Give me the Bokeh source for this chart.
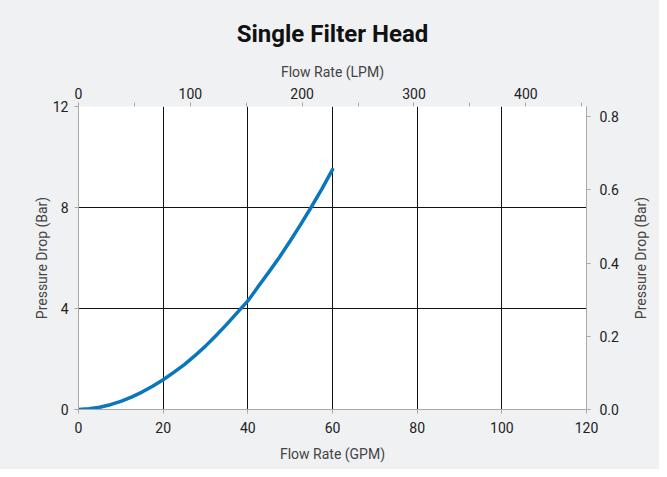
from bokeh.plotting import figure
from bokeh.layouts import row
from bokeh.models import LinearAxis, Range1d, FixedTicker, Title, NumeralTickFormatter
from bokeh.embed import file_html
from bokeh.resources import INLINE

# Data
flow_gpm = [0, 2.5, 5, 7.5, 10, 12.5, 15, 17.5, 20, 22.5, 25, 27.5, 30, 32.5, 35,
            37.5, 40, 42.5, 45, 47.5, 50, 52.5, 55, 57.5, 60]
pressure_psi = [0, 0.03, 0.09, 0.19, 0.32, 0.49, 0.69, 0.92, 1.18, 1.47, 1.78, 2.13,
                2.51, 2.93, 3.37, 3.84, 4.30, 4.88, 5.45, 6.04, 6.67, 7.33, 8.02, 8.74, 9.5]

gpm_ticks = [0, 20, 40, 60, 80, 100, 120]
lpm_ticks = [0, 100, 200, 300, 400]
lpm_minor = [50, 150, 250, 350, 450]
left_ticks = [0, 4, 8, 12]
bar_ticks = [0.0, 0.2, 0.4, 0.6, 0.8]
grid_x = [20, 40, 60, 80, 100]
grid_y = [4, 8, 12]

GPM_MAX = 120
LPM_MAX = 120 * 3.78541
PSI_MAX = 12
BAR_MAX = 12 * 0.0689476

FONT = "Roboto"
BG = "#f0f1f3"
AXIS_GRAY = "#a9a9a9"
TXT = "#222222"
LBL = "#444444"

H = 469
fig = figure(width=622, height=H, output_backend="svg", toolbar_location=None,
             x_range=Range1d(0, GPM_MAX), y_range=Range1d(0, PSI_MAX),
             x_axis_location=None, y_axis_location=None,
             min_border_left=78, min_border_right=36, min_border_top=106, min_border_bottom=60)
fig.background_fill_color = "white"
fig.border_fill_color = BG
fig.outline_line_color = None
fig.extra_x_ranges = {"lpm": Range1d(0, LPM_MAX)}
fig.extra_y_ranges = {"bar": Range1d(0, BAR_MAX)}


def style(ax, label, standoff, label_standoff):
    ax.axis_label = label
    ax.axis_label_text_font = FONT
    ax.axis_label_text_font_size = "14px"
    ax.axis_label_text_font_style = "normal"
    ax.axis_label_text_color = LBL
    ax.axis_label_standoff = label_standoff
    ax.major_label_text_font = FONT
    ax.major_label_text_font_size = "14px"
    ax.major_label_text_color = TXT
    ax.major_label_standoff = standoff
    ax.axis_line_color = AXIS_GRAY
    ax.major_tick_line_color = AXIS_GRAY
    ax.minor_tick_line_color = AXIS_GRAY
    ax.major_tick_in = 0
    ax.major_tick_out = 4
    ax.minor_tick_in = 0
    ax.minor_tick_out = 4


bottom = LinearAxis(ticker=FixedTicker(ticks=gpm_ticks))
style(bottom, "Flow Rate (GPM)", 8, 10)
fig.add_layout(bottom, "below")

left = LinearAxis(ticker=FixedTicker(ticks=left_ticks))
style(left, "Pressure Drop (Bar)", 6, 0)
fig.add_layout(left, "left")

top = LinearAxis(x_range_name="lpm", ticker=FixedTicker(ticks=lpm_ticks, minor_ticks=lpm_minor))
style(top, "Flow Rate (LPM)", 4, 5)
top.axis_line_color = None
fig.add_layout(top, "above")

right = LinearAxis(y_range_name="bar", ticker=FixedTicker(ticks=bar_ticks))
style(right, None, 9, 0)
right.formatter = NumeralTickFormatter(format="0.0")
fig.add_layout(right, "right")

fig.xgrid.ticker = FixedTicker(ticks=grid_x)
fig.ygrid.ticker = FixedTicker(ticks=grid_y)
for g in (fig.xgrid[0], fig.ygrid[0]):
    g.grid_line_color = "#111111"
    g.grid_line_width = 1

fig.line(flow_gpm, pressure_psi, line_color="#0a77bd", line_width=3.5,
         line_cap="round", line_join="round")

fig.add_layout(Title(text="Single Filter Head", align="center", text_font=FONT,
                     text_font_size="24px", text_font_style="bold", text_color="#111111",
                     standoff=26), "above")

# narrow companion strip carrying the right-hand axis title (reads bottom-to-top)
side = figure(width=37, height=H, output_backend="svg", toolbar_location=None,
              x_range=Range1d(0, 1), y_range=Range1d(0, BAR_MAX),
              x_axis_location=None, y_axis_location=None,
              min_border_left=26, min_border_right=0, min_border_top=106, min_border_bottom=60)
side.background_fill_color = BG
side.border_fill_color = BG
side.outline_line_color = None
side.grid.visible = False
side_ax = LinearAxis(ticker=FixedTicker(ticks=[]))
style(side_ax, "Pressure Drop (Bar)", 0, 0)
side_ax.axis_line_color = None
side_ax.major_tick_out = 0
side_ax.minor_tick_out = 0
side.add_layout(side_ax, "left")

p = row(fig, side, spacing=0, styles={"background-color": BG})

open("out.html", "w").write(file_html(p, INLINE))
